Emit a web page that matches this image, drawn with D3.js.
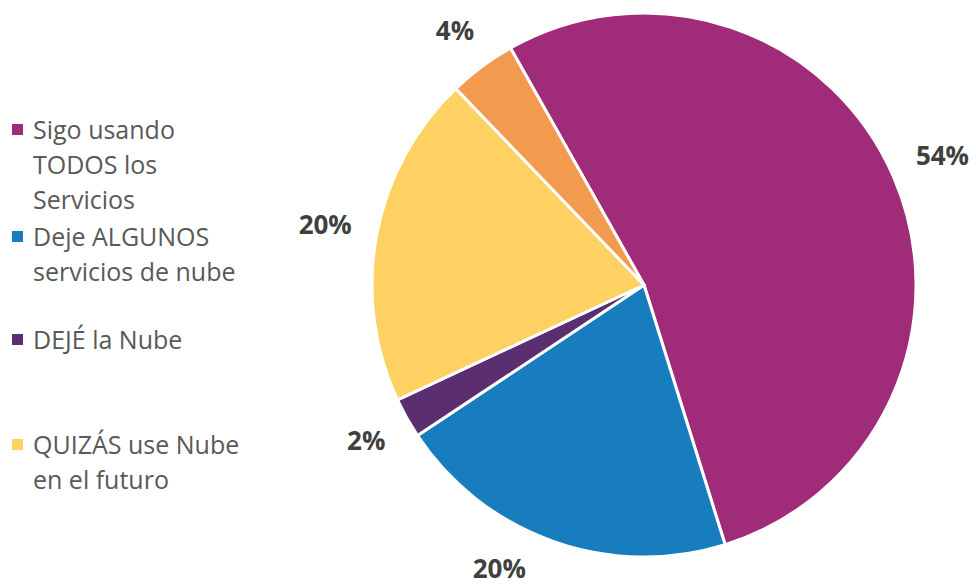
<!DOCTYPE html>
<html>
<head>
<meta charset="utf-8">
<script src="https://cdn.jsdelivr.net/npm/d3@7"></script>
<style>
  body { margin: 0; background: #fff; }
  svg { display: block; font-family: "Open Sans", "Noto Sans", sans-serif; }
</style>
</head>
<body>
<svg width="976" height="588"></svg>
<script>
// chart data (slice shares, labels as printed)
var categories = ["Sigo usando TODOS los Servicios", "Deje ALGUNOS servicios de nube", "DEJÉ la Nube", "QUIZÁS use Nube en el futuro", "Otro"];
var shares = [53.4, 20.5, 2.4, 19.8, 4.0];
var labels = ["54%", "20%", "2%", "20%", "4%"];
var colors = ["#A02B79", "#187DBF", "#5B2D71", "#FED162", "#F29B4E"];
var legendLines = [["Sigo usando", "TODOS los", "Servicios"], ["Deje ALGUNOS", "servicios de nube"], ["DEJÉ la Nube"], ["QUIZÁS use Nube", "en el futuro"]];
var legendY = [130, 237, 340, 445];

var svg = d3.select("svg"),
    width = +svg.attr("width"),
    height = +svg.attr("height"),
    cx = 644, cy = 285, radius = 272;

var start = -29.4 * Math.PI / 180;
var pie = d3.pie()
    .sort(null)
    .value(function (d) { return d; })
    .startAngle(start)
    .endAngle(start + 2 * Math.PI);

var arc = d3.arc().innerRadius(0).outerRadius(radius);

var g = svg.append("g").attr("transform", "translate(" + cx + "," + cy + ")");

var arcs = pie(shares);

g.selectAll("path")
    .data(arcs)
    .enter().append("path")
    .attr("d", arc)
    .attr("fill", function (d, i) { return colors[i]; })
    .attr("stroke", "#fff")
    .attr("stroke-width", 3)
    .attr("stroke-linejoin", "round");

// labels sit just outside the pie, nudged along the rim if they hit the page edge
var gap = 24;
function labelPos(a, w, h) {
    var s = Math.sin(a), c = Math.cos(a);
    var d = radius + gap + w / 2 * Math.abs(s) + h / 2 * Math.abs(c);
    return [d * s, -d * c];
}

g.selectAll("text.pct")
    .data(arcs)
    .enter().append("text")
    .attr("class", "pct")
    .attr("text-anchor", "middle")
    .attr("dy", "0.35em")
    .style("font-size", "26px")
    .style("font-weight", "bold")
    .style("fill", "#404040")
    .text(function (d, i) { return labels[i]; })
    .each(function (d) {
        var bb = this.getBBox(),
            w = bb.width, h = 24;
        var a = (d.startAngle + d.endAngle) / 2;
        var p = labelPos(a, w, h);
        var step = (a > Math.PI ? 1 : -1) * Math.PI / 360;
        var n = 0;
        while (cy + p[1] + h / 2 > height - 6 && n < 200) {
            a += step;
            p = labelPos(a, w, h);
            n++;
        }
        d3.select(this).attr("transform", "translate(" + p + ")");
    });

// legend
var legend = svg.append("g").attr("class", "legend");
legendLines.forEach(function (lines, i) {
    legend.append("rect")
        .attr("x", 12)
        .attr("y", legendY[i] - 6)
        .attr("width", 11)
        .attr("height", 11)
        .attr("fill", colors[i]);
    lines.forEach(function (line, j) {
        legend.append("text")
            .attr("x", 33)
            .attr("y", legendY[i] + j * 35)
            .attr("dy", "0.35em")
            .style("font-size", "25px")
            .style("fill", "#595959")
            .text(line);
    });
});
</script>
</body>
</html>
